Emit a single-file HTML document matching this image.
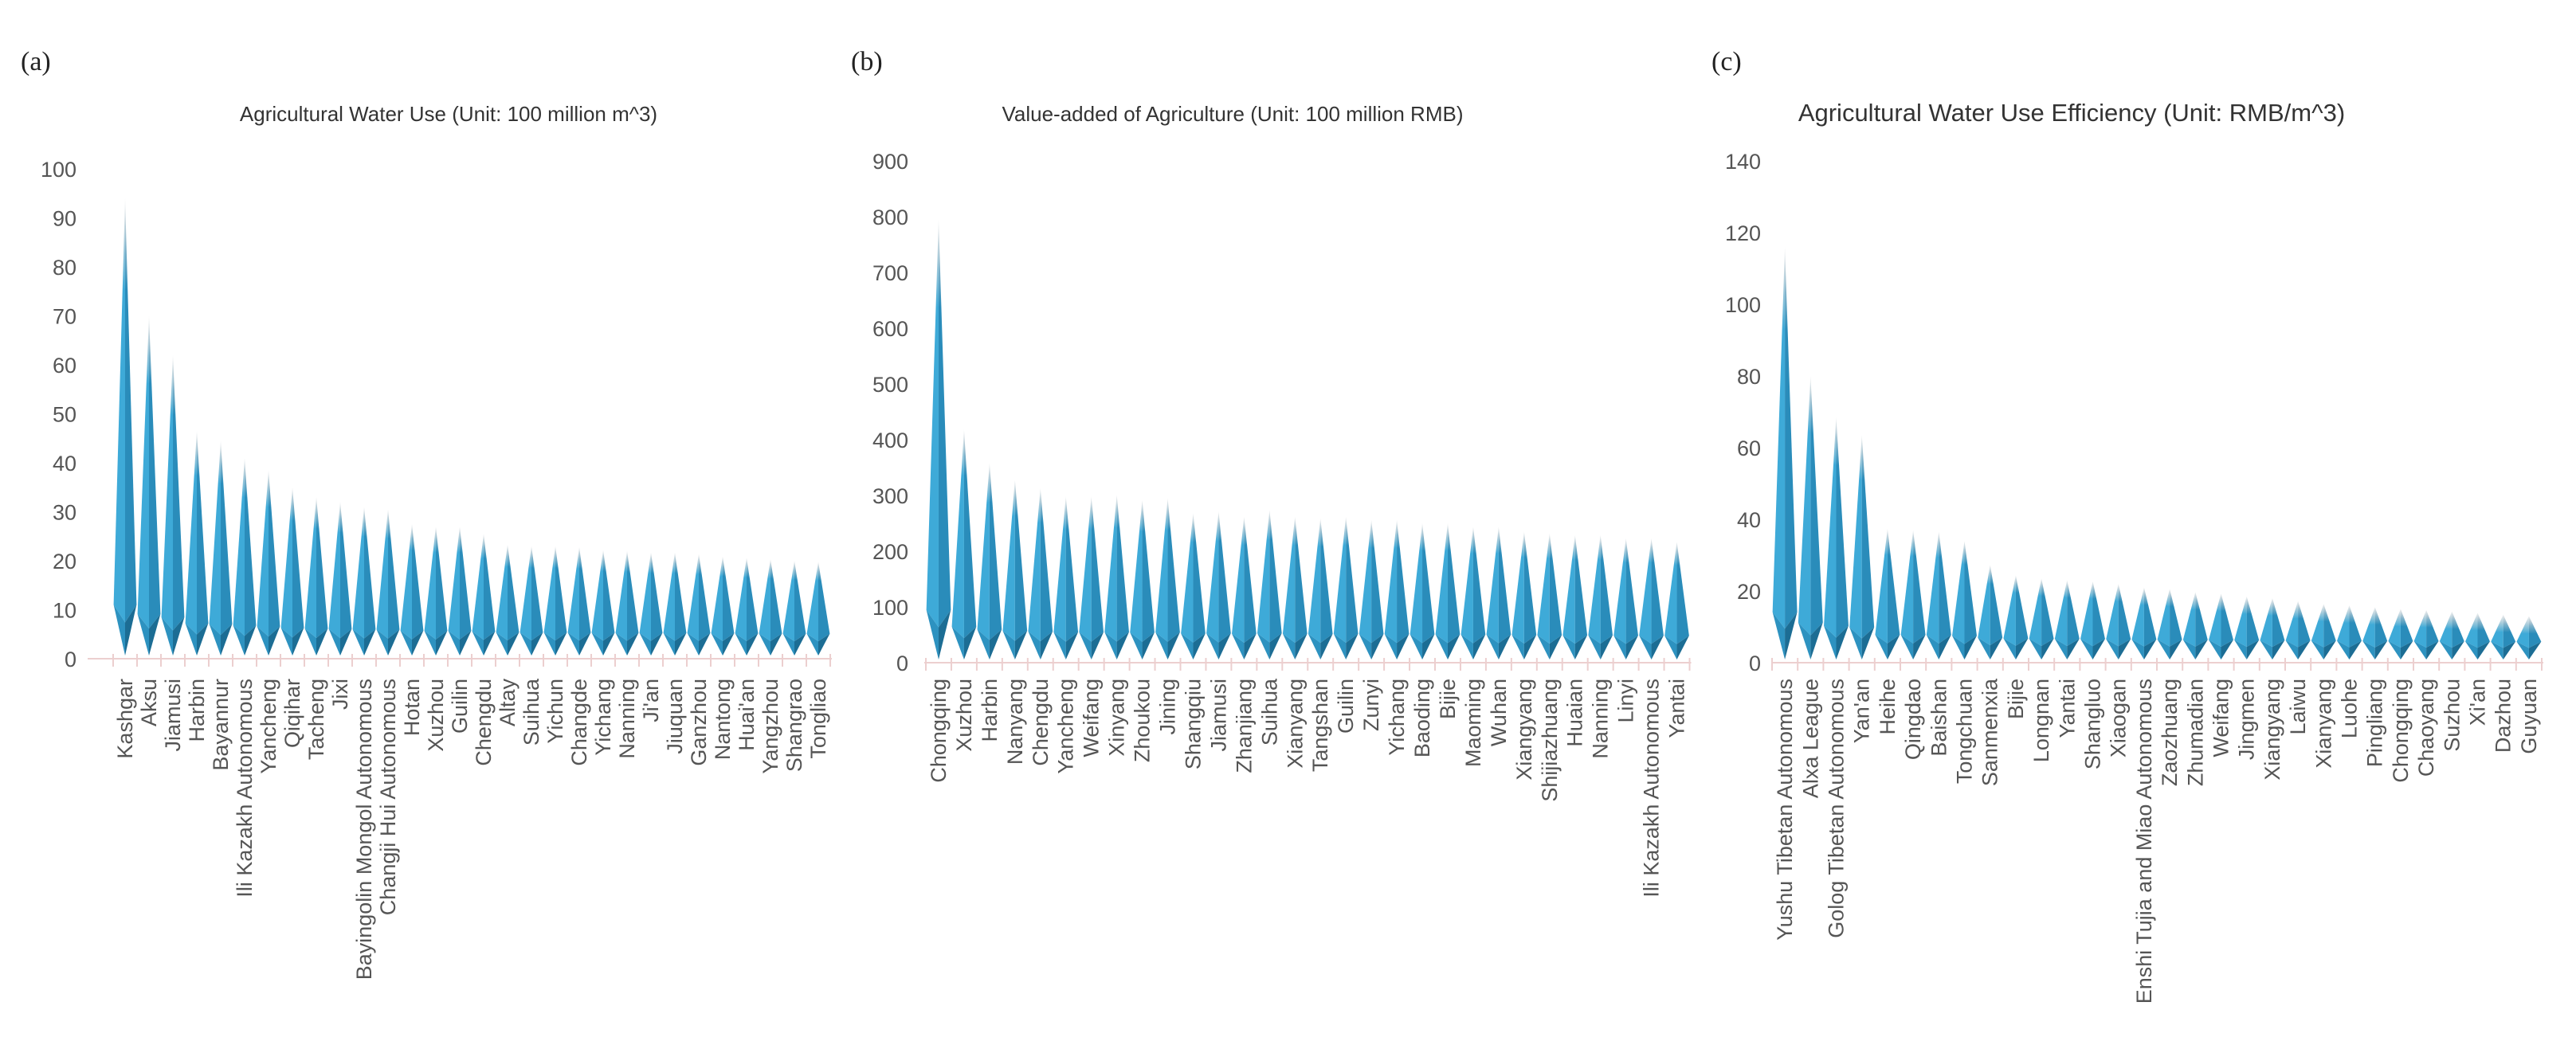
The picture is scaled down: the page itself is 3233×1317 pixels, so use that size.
<!DOCTYPE html>
<html><head><meta charset="utf-8">
<style>
html,body{margin:0;padding:0;background:#fff;}
svg{display:block;}
</style></head>
<body>
<svg id="fig" width="3233" height="1317" viewBox="0 0 3233 1317" xmlns="http://www.w3.org/2000/svg">
<defs id="defs"></defs>
<text x="26" y="88" font-family="Liberation Serif, serif" font-size="34" fill="#222">(a)</text>
<text x="1068" y="88" font-family="Liberation Serif, serif" font-size="34" fill="#222">(b)</text>
<text x="2148" y="88" font-family="Liberation Serif, serif" font-size="34" fill="#222">(c)</text>
<g id="panels"></g>
</svg>
<script>
// ---- data ----
const catsA = ["Kashgar","Aksu","Jiamusi","Harbin","Bayannur","Ili Kazakh Autonomous","Yancheng","Qiqihar","Tacheng","Jixi","Bayingolin Mongol Autonomous","Changji Hui Autonomous","Hotan","Xuzhou","Guilin","Chengdu","Altay","Suihua","Yichun","Changde","Yichang","Nanning","Ji'an","Jiuquan","Ganzhou","Nantong","Huai'an","Yangzhou","Shangrao","Tongliao"];
const valsA = [94,70,62,46.5,44.5,41,38.5,35,33,32,31,30.5,27.5,27,27,25.5,23.3,23,23,22.8,22.2,22,21.7,21.7,21.4,20.9,20.6,20.3,20,19.8];
const ticksA = [0,10,20,30,40,50,60,70,80,90,100];

const catsB = ["Chongqing","Xuzhou","Harbin","Nanyang","Chengdu","Yancheng","Weifang","Xinyang","Zhoukou","Jining","Shangqiu","Jiamusi","Zhanjiang","Suihua","Xianyang","Tangshan","Guilin","Zunyi","Yichang","Baoding","Bijie","Maoming","Wuhan","Xiangyang","Shijiazhuang","Huaian","Nanning","Linyi","Ili Kazakh Autonomous","Yantai"];
const valsB = [795,418,358,328,313,298,298,301,292,295,268,271,262,274,262,259,262,256,256,250,250,244,244,235,232,229,229,223,223,217];
const ticksB = [0,100,200,300,400,500,600,700,800,900];

const catsC = ["Yushu Tibetan Autonomous","Alxa League","Golog Tibetan Autonomous","Yan'an","Heihe","Qingdao","Baishan","Tongchuan","Sanmenxia","Bijie","Longnan","Yantai","Shangluo","Xiaogan","Enshi Tujia and Miao Autonomous","Zaozhuang","Zhumadian","Weifang","Jingmen","Xiangyang","Laiwu","Xianyang","Luohe","Pingliang","Chongqing","Chaoyang","Suzhou","Xi'an","Dazhou","Guyuan"];
const valsC = [116,80,68.5,63.5,37.4,37,36.6,34,27.3,24.4,23.5,23,22.7,22,21,20.6,19.7,19.3,18.5,18,17.2,16.4,16,15.5,15,14.7,14.3,13.9,13.4,13];
const ticksC = [0,20,40,60,80,100,120,140];

const titles = ["Agricultural Water Use (Unit: 100 million m^3)","Value-added of Agriculture (Unit: 100 million RMB)","Agricultural Water Use Efficiency (Unit: RMB/m^3)"];

const NS = "http://www.w3.org/2000/svg";
const defs = document.getElementById('defs');
const root = document.getElementById('panels');
function mk(tag, attrs, parent){const e=document.createElementNS(NS,tag);for(const k in attrs)e.setAttribute(k,attrs[k]);parent.appendChild(e);return e;}

const layout = [
 {key:'a', cats:catsA, vals:valsA, ticks:ticksA, axL:110, x0:142, band:30, y0:827, yTop:212, labX:96, tx:563, tfs:26},
 {key:'b', cats:catsB, vals:valsB, ticks:ticksB, axL:1160, x0:1162, band:31.95, y0:832, yTop:202, labX:1140, tx:1547, tfs:26},
 {key:'c', cats:catsC, vals:valsC, ticks:ticksC, axL:2224, x0:2224, band:32.2, y0:832, yTop:202, labX:2210, tx:2600, tfs:31}
];
let gid=0;
layout.forEach((P,pi)=>{
  const g = mk('g',{},root);
  
  
  const max = P.ticks[P.ticks.length-1];
  const yScale = v => P.y0 - (P.y0-P.yTop)*v/max;
  const xScale = i => P.x0 + P.band*(i+0.5);
  const axR = P.x0 + P.band*P.cats.length + 2;
  const t = mk('text',{x:P.tx, y:152, 'text-anchor':'middle','font-family':'Liberation Sans, Arial, sans-serif','font-size':P.tfs,fill:'#333'},g);
  t.textContent = titles[pi];
  
  
  P.ticks.forEach(v=>{
    const tl = mk('text',{x:P.labX, y:yScale(v)+10,'text-anchor':'end','font-family':'Liberation Sans, Arial, sans-serif','font-size':27,fill:'#555'},g);
    tl.textContent = v;
    
    
  });
  P.vals.forEach((v,i)=>{
    const cx = xScale(i), yt = yScale(v), yb = P.y0 - 4;
    const h = yb - yt;
    const w = P.band*0.96;
    const yw = yb - (0.08*h + 18);
    const yr = yw + (yb-yw)*0.35;
    const sg = mk('g',{},g);
    
    
    const fadeEnd = yt + Math.max(0.2*h, 22);
    const idL='gl'+(gid), idR='gr'+(gid); gid++;
    const gl = mk('linearGradient',{id:idL,gradientUnits:'userSpaceOnUse',x1:0,y1:yt,x2:0,y2:fadeEnd},defs);
    mk('stop',{offset:0,'stop-color':'#9aa8b0','stop-opacity':0.15},gl);
    mk('stop',{offset:0.55,'stop-color':'#6fb0cc','stop-opacity':0.7},gl);
    mk('stop',{offset:1,'stop-color':'#3eaad8','stop-opacity':1},gl);
    const gr = mk('linearGradient',{id:idR,gradientUnits:'userSpaceOnUse',x1:0,y1:yt,x2:0,y2:fadeEnd},defs);
    mk('stop',{offset:0,'stop-color':'#8a98a0','stop-opacity':0.15},gr);
    mk('stop',{offset:0.55,'stop-color':'#5598b8','stop-opacity':0.75},gr);
    mk('stop',{offset:1,'stop-color':'#2a8cba','stop-opacity':1},gr);
    mk('polygon',{points:`${cx},${yt} ${cx-w/2},${yw} ${cx},${yr}`,fill:`url(#${idL})`},sg);
    mk('polygon',{points:`${cx},${yt} ${cx+w/2},${yw} ${cx},${yr}`,fill:`url(#${idR})`},sg);
    mk('polygon',{points:`${cx-w/2},${yw} ${cx},${yr} ${cx},${yb}`,fill:'#2d92c0'},sg);
    mk('polygon',{points:`${cx+w/2},${yw} ${cx},${yr} ${cx},${yb}`,fill:'#1c6d94'},sg);
    const lab = mk('text',{transform:`translate(${cx+9},852) rotate(-90)`,'text-anchor':'end','font-family':'Liberation Sans, Arial, sans-serif','font-size':27,fill:'#555'},g);
    lab.textContent = P.cats[i];
    
    
  });
  const ax = mk('line',{x1:P.axL,y1:P.y0,x2:axR,y2:P.y0,stroke:'#eccfcf','stroke-width':2},g);
  
  
  for(let k=0;k<=P.cats.length;k++){
    const tx = P.x0 + P.band*k;
    const tk = mk('line',{x1:tx,y1:P.y0-6,x2:tx,y2:P.y0+10,stroke:'#eccfcf','stroke-width':2},g);
    
    
  }
});
</script>
</body></html>
